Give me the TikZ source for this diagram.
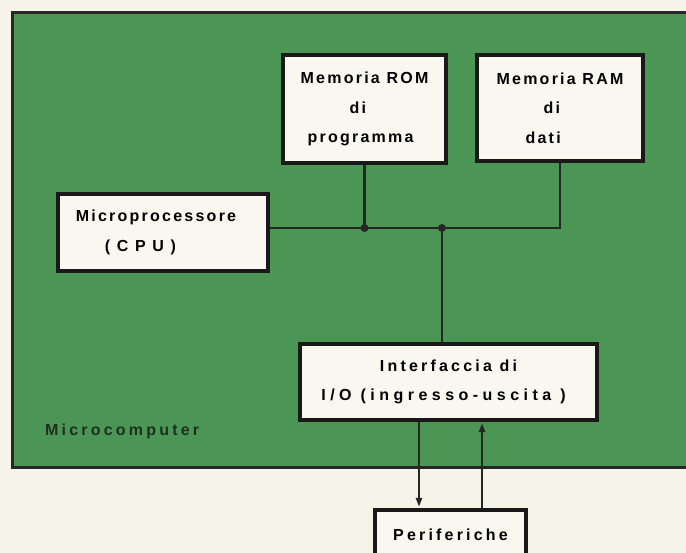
\documentclass[tikz,border=0pt]{standalone}
\usepackage{fontspec}
\usepackage{xcolor}
\usetikzlibrary{arrows.meta,calc}
\newfontfamily\blockfont{Liberation Sans}[LetterSpace=14]
\newfontfamily\widefont{Liberation Sans}[LetterSpace=20]
\newfontfamily\widerfont{Liberation Sans}[LetterSpace=28]
\definecolor{boardgreen}{RGB}{76,150,85}
\definecolor{paper}{RGB}{246,243,232}
\definecolor{boxfill}{RGB}{249,247,239}
\definecolor{inkgreen}{RGB}{28,48,30}

\begin{document}
\begin{tikzpicture}[x=1pt,y=-1pt]
    \tikzset{blk/.style={draw=black!90,line width=3.2pt,fill=boxfill,inner sep=0pt,
        font=\blockfont\bfseries\fontsize{16}{29.5}\selectfont}}
    \tikzset{wire/.style={line width=2.4pt,draw=black!85}}
    \tikzset{tip/.style={-{Triangle[length=9pt,width=6pt]},shorten >=1.5pt}}
    % page and board
    \fill[paper] (0,0) rectangle (686,553);
    \useasboundingbox (0,0) rectangle (686,553);
    \draw[fill=boardgreen,draw=black!85,line width=3pt] (12,13) rectangle (694,467);
    % blocks
    \node[blk,minimum width=163pt,minimum height=108pt,align=left] (rom) at (364.5,109)
        {Memoria ROM\\\hspace*{49pt}di\\\hspace*{7pt}programma};
    \node[blk,minimum width=166pt,minimum height=106pt,align=left] (ram) at (560,108)
        {Memoria RAM\\\hspace*{47pt}di\\\hspace*{29pt}dati};
    \node[blk,minimum width=210pt,minimum height=77pt,align=left] (cpu) at (163,232.5)
        {Microprocessore\hspace*{14pt}\\\hspace*{29pt}( C P U )};
    \node[blk,minimum width=297pt,minimum height=76pt,align=center] (io) at (448.5,382)
        {\widefont\bfseries Interfaccia di\\\widerfont\bfseries I/O (ingresso-uscita )\hspace*{10pt}};
    \node[blk,minimum width=151pt,minimum height=50pt] (per) at (450.5,535)
        {\widefont\bfseries Periferiche};
    \node[anchor=west,inner sep=0pt,text=inkgreen,
        font=\widefont\bfseries\fontsize{16}{18}\selectfont] (mc) at (45,431) {Microcomputer};
    % bus
    \coordinate (bus) at (0,228);
    \coordinate (tap) at (442,0);
    \draw[wire] (cpu.east |- bus) -- (ram.south |- bus) -- (ram.south);
    \draw[wire] (rom.south) -- (rom.south |- bus);
    \draw[wire] (tap |- bus) -- (io.north -| tap);
    \fill[black!85] (rom.south |- bus) circle (4pt);
    \fill[black!85] (tap |- bus) circle (4pt);
    % to and from the peripherals
    \coordinate (dn) at (419,0);
    \coordinate (up) at (482,0);
    \draw[wire,tip] (io.south -| dn) -- (per.north -| dn);
    \draw[wire,tip] (per.north -| up) -- (io.south -| up);
\end{tikzpicture}
\end{document}
